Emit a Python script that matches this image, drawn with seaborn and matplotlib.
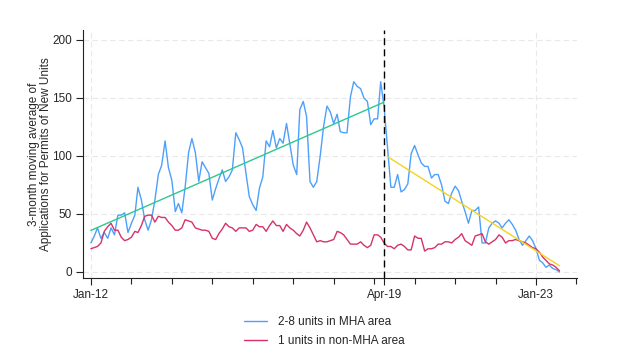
import pandas as pd
import numpy as np
import matplotlib
matplotlib.use('Agg')
import matplotlib.pyplot as plt
import matplotlib.dates as mdates
import seaborn as sns

# monthly series, Jan 2012 onwards (3-month moving averages)
months = pd.date_range('2012-01-01', periods=140, freq='MS')

mha_2_8 = [25, 31, 38, 29, 34, 29, 38, 32, 49, 49,
           51, 34, 42, 49, 73, 62, 45, 36, 45, 62,
           84, 92, 113, 90, 79, 52, 59, 51, 73, 103,
           115, 103, 78, 95, 90, 85, 62, 72, 80, 88,
           78, 82, 88, 120, 114, 107, 85, 65, 58, 53,
           72, 82, 113, 108, 122, 107, 115, 111, 128, 110,
           92, 84, 140, 147, 134, 78, 73, 78, 100, 125,
           143, 138, 128, 136, 121, 120, 120, 151, 164, 160,
           158, 150, 147, 127, 132, 132, 164, 142, 108, 73,
           73, 84, 69, 71, 76, 102, 109, 101, 94, 91,
           91, 81, 84, 84, 75, 61, 59, 68, 74, 70,
           61, 52, 42, 53, 53, 56, 25, 25, 38, 42,
           44, 42, 38, 42, 45, 41, 36, 28, 23, 27,
           31, 27, 20, 10, 8, 4, 6, 3, 2, 0]

non_mha_1 = [20, 21, 22, 25, 35, 39, 42, 36, 36, 30,
             27, 28, 30, 35, 34, 40, 48, 49, 49, 43,
             48, 47, 47, 43, 40, 36, 36, 38, 45, 44,
             43, 38, 37, 36, 36, 35, 29, 28, 33, 37,
             42, 39, 38, 35, 38, 38, 38, 35, 36, 41,
             39, 39, 35, 40, 44, 40, 40, 35, 41, 38,
             36, 33, 31, 36, 43, 38, 32, 26, 27, 26,
             26, 27, 28, 35, 34, 32, 28, 24, 24, 24,
             26, 23, 21, 23, 32, 32, 30, 25, 22, 22,
             20, 23, 24, 22, 19, 19, 31, 29, 29, 18,
             20, 20, 21, 24, 24, 26, 26, 25, 28, 30,
             33, 27, 25, 23, 31, 32, 33, 26, 24, 26,
             28, 32, 30, 25, 27, 27, 28, 27, 26, 25,
             23, 21, 20, 17, 13, 10, 7, 6, 4, 1]

break_date = pd.Timestamp('2019-04-01')
major_dates = pd.to_datetime(['2012-01-01', '2019-04-01', '2023-01-01'])
major_labels = ['Jan-12', 'Apr-19', 'Jan-23']
minor_dates = pd.date_range('2013-01-01', '2024-01-01', freq='YS')

df = pd.DataFrame({'date': months, 'mha': mha_2_8, 'non_mha': non_mha_1})
df['x'] = mdates.date2num(df['date'])

sns.set_style('white')
plt.rcParams['font.family'] = ['Liberation Sans', 'DejaVu Sans']
plt.rcParams['font.size'] = 8.5

fig = plt.figure(figsize=(6.27, 3.63), dpi=100)
ax = fig.add_axes([83 / 627, 1 - 278 / 363, (577 - 83) / 627, (278 - 30) / 363])

blue = '#4da0fb'
red = '#d6336a'

l1, = ax.plot(df['x'], df['mha'], color=blue, lw=1.0)
l2, = ax.plot(df['x'], df['non_mha'], color=red, lw=1.0)

# linear fits before / after the break
pre = df[df['date'] <= break_date]
post = df[df['date'] > break_date]
sns.regplot(data=pre, x='x', y='mha', ax=ax, scatter=False, ci=None,
            truncate=True, line_kws={'color': '#2ec98a', 'lw': 1.0})
sns.regplot(data=post, x='x', y='mha', ax=ax, scatter=False, ci=None,
            truncate=True, line_kws={'color': '#f5d21e', 'lw': 1.0})

ax.axvline(mdates.date2num(break_date), color='black', lw=1.0, ls=(0, (5, 3)))

ax.set_ylim(-5.2, 208.6)
ax.set_yticks([0, 50, 100, 150, 200])
ax.set_xlim(mdates.date2num(pd.Timestamp('2011-10-22')),
            mdates.date2num(pd.Timestamp('2024-01-06')))
ax.set_xticks(mdates.date2num(major_dates))
ax.set_xticklabels(major_labels)
ax.set_xticks(mdates.date2num(minor_dates), minor=True)

ax.grid(True, which='major', color='#e9e9e9', lw=0.8, ls=(0, (5, 3)))
ax.set_axisbelow(True)
for s in ['top', 'right']:
    ax.spines[s].set_visible(False)
for s in ['left', 'bottom']:
    ax.spines[s].set_color('#222222')
    ax.spines[s].set_linewidth(0.8)
ax.tick_params(axis='both', which='major', direction='out', length=5,
               width=0.8, color='#222222', labelsize=8.5, pad=3, left=True, bottom=True)
ax.tick_params(axis='x', which='minor', direction='out', length=4,
               width=0.8, color='#222222', bottom=True)

ax.set_xlabel('')
ax.set_ylabel('3-month moving average of\nApplications for Permits of New Units',
              fontsize=8.5, linespacing=1.0)
ax.yaxis.set_label_coords(-0.063, 0.5)

fig.legend([l1, l2], ['2-8 units in MHA area', '1 units in non-MHA area'],
           loc='center', bbox_to_anchor=(324 / 627, 1 - 331.5 / 363),
           frameon=False, ncol=1, handlelength=2.0, handletextpad=0.9,
           labelspacing=0.6, fontsize=8.5)

fig.savefig('out.png', dpi=100)
